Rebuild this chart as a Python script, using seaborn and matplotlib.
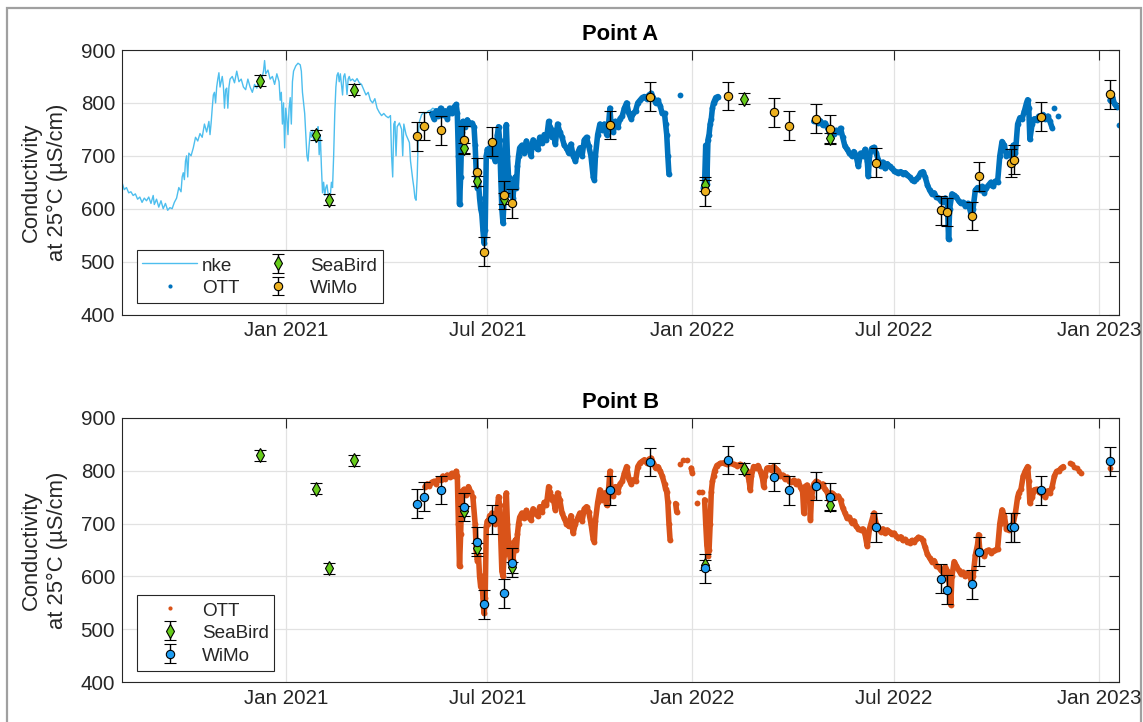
import numpy as np
import pandas as pd
import matplotlib
matplotlib.use("Agg")
import matplotlib.pyplot as plt
import matplotlib.dates as mdates
from matplotlib.lines import Line2D
from matplotlib.patches import Rectangle
import seaborn as sns

# ---------------- data ----------------
BASE = "2021-01-01"  # x values of the time series are days since this date
nan = np.nan

nke_day = [-148, -147, -145, -143, -141, -139, -137, -135, -133, -131, -129, -127, -125, -123,
           -121, -119, -118, -116, -114, -112, -110, -108, -106, -104, -102, -100, -98, -96,
           -94, -93, -92, -91, -90, -89, -88, -87, -85, -83, -81, -79, -77, -75, -73, -71,
           -69, -68, -67, -66, -65, -64, -63, -62, -61, -60, -59, -57, -56, -55, -54, -53,
           -52, -51, -50, -48, -46, -44, -42, -40, -38, -36, -34, -32, -30, -28, -26, -24,
           -22, -20, -19, -18, -16, -14, -12, -10, -8, -6, -5, -4, -3, -2, -1, 0, 1, 2, 3,
           4, 5, 6, 7, 9, 11, 13, 14, 15, 16, 17, 18, 19, 20, 21, 22, 23, 24, 25, 26, 27,
           28, 29, 30, 31, 32, 33, 34, 35, 36, 37, 38, 39, 40, 41, 42, 43, 44, 45, 46, 47,
           48, 49, 50, 51, 52, 53, 54, 55, 56, 57, 58, 60, 62, 64, 66, 68, 70, 72, 74, 76,
           78, 80, 82, 84, 86, 88, 90, 92, 94, 95, 96, 97, 98, 99, 100, 102, 104, 105, 106,
           108, 110, 111, 112, 114, 115, 116, 117, 118, 119, 120, 122, 124, 126, 128, 130,
           132, 134]
nke_val = [640, 650, 636, 640, 630, 632, 625, 628, 618, 622, 612, 620, 615, 622,
           610, 625, 608, 618, 603, 615, 600, 610, 597, 602, 600, 612, 620, 640,
           632, 660, 668, 655, 690, 700, 660, 705, 700, 715, 735, 728, 742, 735, 760, 745,
           765, 740, 762, 790, 815, 820, 800, 830, 845, 857, 830, 850, 832, 790, 825, 828,
           790, 830, 845, 850, 838, 860, 840, 845, 830, 825, 845, 830, 820, 835, 828, 845,
           840, 860, 880, 855, 862, 845, 850, 835, 855, 840, 805, 820, 760, 800, 715, 790,
           770, 740, 790, 810, 760, 840, 860, 870, 875, 872, 860, 820, 800, 780, 740, 700,
           690, 720, 745, 735, 748, 730, 740, 725, 745, 755, 702, 740, 680, 630, 650, 625,
           640, 645, 628, 612, 625, 650, 640, 700, 780, 830, 852, 857, 840, 855, 835, 815,
           850, 855, 840, 816, 845, 850, 842, 845, 840, 846, 838, 835, 825, 815, 820, 805,
           800, 808, 790, 782, 776, 780, 775, 772, 776, 700, 660, 760, 765, 700, 755, 762,
           750, 700, 760, 740, 730, 725, 690, 655, 640, 620, 616, 660, 740, 765, 778, 782,
           780, 785, 786, 790, 788]

# OTT, Point A (nan = gap in the record)
ott_a_day = [131, 133, 135, 137, 139, 141, 143, 145, 147, 149, 151, 153, 154, 155, 156, 157,
             158, 159, 161, 163, 165, 167, 169, 170, 171, 172, 173, 174, 175, 176, 177, 178,
             179, 180, 181, 182, 183, 184, 185, 186, 187, 188, 189, 190, 191, 192, 193, 194,
             195, 196, 197, 198, 199, 200, 201, 202, 203, 204, 205, 206, 207, 208, 209, 210,
             212, 214, 216, 218, 220, 222, 224, 226, 228, 230, 232, 234, 236, 237, 239, 240,
             242, 244, 246, 248, 250, 252, 254, 256, 258, 260, 262, 264, 266, 268, 270, 272,
             274, 276, 277, 278, 280, 282, 284, 286, 288, 290, 291, 292, 294, 296, 298, 300,
             302, 304, 306, 308, 310, 312, 314, 316, 318, 320, 322, 324, 326, 328, 330, 332,
             334, 336, 338, 340, 341, 342, 343, 344, 349, 354, 360, 375, 376, 377, 378, 379,
             380, 381, 382, 383, 384, 385, 386, 388, 430, 474, 476, 478, 480, 482, 484, 486,
             488, 490, 492, 494, 496, 498, 500, 502, 504, 506, 508, 510, 512, 514, 516, 518,
             520, 522, 523, 524, 526, 528, 530, 532, 534, 536, 538, 540, 542, 544, 546, 548,
             550, 552, 554, 556, 558, 560, 562, 564, 566, 568, 570, 572, 574, 576, 578, 580,
             582, 584, 586, 588, 590, 592, 594, 595, 596, 598, 600, 602, 604, 606, 608, 610,
             612, 614, 616, 617, 619, 621, 623, 625, 627, 629, 631, 633, 635, 637, 639, 641,
             643, 645, 647, 649, 651, 653, 655, 657, 659, 661, 663, 665, 666, 667, 668, 670,
             672, 674, 676, 678, 680, 682, 684, 686, 688, 689, 690, 691, 693, 720, 740, 742,
             744, 746, 747, 748]
ott_a_val = [780, 770, 785, 775, 790, 778, 785, 770, 790, 780, 792, 797, 780, 700, 608, 660,
             745, 765, 755, 768, 760, 762, 755, 720, 670, 640, 650, 620, 600, 590, 560, 535,
             560, 700, 712, 705, 715, 700, 720, 715, 705, 690, 710, 740, 755, 730, 660, 600,
             573, 620, 700, 759, 700, 660, 640, 625, 645, 620, 650, 660, 640, 680, 700, 715,
             720, 705, 728, 715, 700, 730, 722, 712, 735, 725, 740, 730, 765, 755, 735, 748,
             722, 760, 745, 735, 720, 715, 705, 722, 700, 690, 705, 715, 700, 730, 735, 718,
             700, 660, 655, 700, 740, 760, 748, 760, 740, 765, 790, 760, 745, 765, 755, 770,
             775, 790, 800, 780, 770, 780, 785, 800, 805, 810, 812, 808, 815, 818, 810, 800,
             805, 795, 780, 780, 760, 740, 700, 665, nan, 814, nan, 640, 650, 720, 646, 730,
             740, 760, 770, 790, 800, 805, 810, 812, nan, 765, 768, 762, 766, 758, 762, 755,
             745, 740, 742, 748, 745, 752, 735, 718, 712, 705, 700, 708, 700, 680, 705, 700,
             712, 690, 661, 700, 714, 716, 705, 692, 680, 688, 676, 685, 680, 676, 672, 670,
             668, 670, 666, 668, 664, 660, 655, 652, 656, 660, 668, 670, 660, 645, 635, 628,
             630, 622, 620, 615, 612, 620, 610, 542, 600, 628, 625, 622, 615, 610, 612, 605,
             610, 600, 583, 600, 635, 640, 636, 642, 630, 640, 645, 650, 642, 652, 650, 700,
             727, 720, 700, 705, 700, 720, 705, 760, 772, 770, 784, 800, 806, 790, 731, 760,
             770, 768, 775, 772, 778, 770, 775, 765, 753, nan, 790, nan, 776, nan, 805, 812,
             798, 792, nan, 759]

# OTT, Point B
ott_b_day = [125, 127, 129, 131, 133, 135, 137, 139, 141, 143, 145, 147, 149, 151, 153, 154,
             155, 156, 157, 158, 160, 162, 164, 166, 168, 170, 171, 172, 173, 174, 175, 176,
             177, 178, 179, 180, 181, 182, 183, 184, 185, 186, 188, 190, 191, 192, 193, 194,
             195, 196, 197, 198, 199, 200, 201, 202, 203, 204, 205, 206, 207, 208, 209, 210,
             212, 214, 216, 218, 220, 222, 224, 226, 228, 230, 232, 234, 236, 237, 239, 240,
             242, 244, 246, 248, 250, 252, 254, 256, 258, 260, 262, 264, 266, 268, 270, 272,
             274, 276, 277, 278, 280, 282, 284, 286, 288, 290, 291, 292, 294, 296, 298, 300,
             302, 304, 306, 308, 310, 312, 314, 316, 318, 320, 322, 324, 326, 328, 330, 332,
             334, 336, 338, 340, 341, 342, 343, 344, 345, 348, 350, 351, 352, 354, 355, 357,
             358, 360, 362, 364, 365, 367, 369, 370, 371, 372, 374, 375, 376, 377, 378, 379,
             380, 381, 382, 383, 384, 385, 387, 390, 393, 396, 399, 402, 405, 408, 411, 414,
             416, 417, 418, 420, 422, 424, 426, 428, 429, 430, 432, 434, 436, 438, 440, 442,
             444, 446, 448, 450, 452, 454, 456, 458, 460, 462, 464, 465, 466, 468, 470, 471,
             472, 474, 476, 478, 480, 482, 484, 486, 488, 490, 492, 494, 496, 498, 500, 502,
             504, 506, 508, 510, 512, 514, 516, 518, 520, 522, 524, 526, 528, 530, 532, 534,
             536, 538, 540, 542, 544, 546, 548, 550, 552, 554, 556, 558, 560, 562, 564, 566,
             568, 570, 572, 574, 576, 578, 580, 582, 584, 586, 588, 590, 592, 594, 596, 597,
             598, 600, 602, 604, 606, 608, 610, 612, 614, 616, 617, 619, 621, 622, 623, 625,
             627, 629, 631, 633, 635, 637, 639, 641, 643, 645, 647, 649, 651, 653, 655, 657,
             658, 660, 662, 664, 666, 667, 668, 670, 672, 674, 676, 678, 680, 682, 684, 686,
             688, 690, 692, 694, 696, 698, 701, 704, 705, 706, 707, 708, 709, 710, 711, 712,
             713, 714, 720, 740]
ott_b_val = [770, 775, 772, 778, 780, 775, 785, 782, 790, 785, 792, 788, 795, 790, 799, 790,
             700, 619, 680, 760, 765, 755, 770, 760, 750, 700, 650, 630, 640, 600, 580, 600,
             560, 530, 560, 694, 705, 700, 715, 705, 720, 712, 700, 730, 751, 735, 670, 610,
             600, 640, 710, 758, 700, 665, 640, 630, 650, 632, 655, 669, 650, 680, 700, 712,
             720, 710, 725, 712, 707, 728, 720, 715, 732, 722, 740, 735, 770, 760, 745, 750,
             726, 758, 745, 720, 710, 700, 695, 715, 682, 700, 710, 720, 705, 728, 732, 722,
             700, 670, 666, 705, 740, 764, 745, 758, 735, 770, 799, 765, 752, 770, 760, 775,
             780, 795, 808, 785, 775, 783, 780, 808, 815, 818, 821, 815, 822, 824, 815, 805,
             808, 800, 790, 775, 765, 760, 740, 700, 669, nan, 738, 722, nan, 813, nan, 821,
             nan, 821, nan, 805, 796, nan, 739, nan, 760, nan, 760, nan, 745, 700, 660, 638,
             650, 700, 760, 780, 790, 800, 810, 814, 815, 812, 815, 812, 810, 812, 808, 800,
             780, 764, 790, 808, 806, 810, 800, 785, 770, 790, 805, 806, 802, 808, 804, 800,
             790, 792, 785, 788, 780, 778, 782, 775, 780, 770, 760, 720, 770, 773, 760, 707,
             750, 775, 780, 778, 772, 775, 765, 760, 745, 758, 755, 750, 752, 745, 730, 720,
             710, 712, 702, 705, 695, 690, 688, 690, 680, 657, 690, 705, 720, 700, 692, 685,
             690, 682, 688, 684, 680, 682, 676, 672, 675, 668, 670, 666, 664, 668, 665, 670,
             674, 672, 668, 655, 642, 635, 628, 630, 620, 618, 612, 608, 618, 610, 580, 546,
             600, 628, 620, 612, 605, 608, 600, 606, 602, 587, 600, 640, 660, 679, 650, 645,
             638, 648, 650, 645, 648, 650, 652, 700, 726, 715, 690, 688, 692, 700, 720, 750,
             758, 765, 790, 800, 808, 780, 739, 750, 764, 765, 760, 758, 755, 750, 762, 758,
             770, 790, 799, 800, 805, 808, nan, 814, nan, 812, nan, 808, nan, 805, nan, 800,
             nan, 795, nan, 805]

# discrete samples with error bars
wimo_dates = ["2021-04-29", "2021-05-05", "2021-05-20", "2021-06-10", "2021-06-22", "2021-06-28",
              "2021-07-05", "2021-07-16", "2021-07-23", "2021-10-19", "2021-11-24", "2022-01-12",
              "2022-02-02", "2022-03-15", "2022-03-29", "2022-04-22", "2022-05-05", "2022-06-15",
              "2022-08-12", "2022-08-18", "2022-09-09", "2022-09-15", "2022-10-14", "2022-10-17",
              "2022-11-10", "2023-01-11"]
wimo_a = [737, 756, 748, 730, 669, 519, 727, 626, 610, 758, 812, 633, 813, 782, 757,
          770, 750, 687, 597, 594, 586, 661, 686, 693, 774, 816]
wimo_b = [738, 751, 764, 731, 666, 547, 708, 568, 626, 763, 817, 615, 820, 788, 763,
          771, 750, 693, 596, 575, 585, 647, 693, 693, 763, 818]
wimo_err = 27

seabird_a_dates = ["2020-12-09", "2021-01-28", "2021-02-09", "2021-03-03", "2021-06-10",
                   "2021-06-22", "2021-07-16", "2022-01-12", "2022-02-16", "2022-05-05"]
seabird_a = [842, 739, 617, 825, 715, 652, 619, 644, 808, 734]
seabird_b_dates = ["2020-12-09", "2021-01-28", "2021-02-09", "2021-03-03", "2021-06-10",
                   "2021-06-22", "2021-07-23", "2022-01-12", "2022-02-16", "2022-05-05"]
seabird_b = [829, 766, 615, 820, 724, 654, 617, 622, 804, 735]
seabird_err = 10

# ---------------- styling ----------------
C_NKE = "#4DBEEE"
C_OTT_A = "#0072BD"
C_OTT_B = "#D95319"
C_SB = "#66CC1A"
C_WA = "#EDB120"
C_WB = "#1E9DF2"
TXT = "#262626"

sns.set_style("white")
plt.rcParams["font.family"] = ["Liberation Sans", "DejaVu Sans"]
plt.rcParams["axes.unicode_minus"] = False


def to_time(days):
    return pd.Timestamp(BASE) + pd.to_timedelta(np.asarray(days, dtype=float), unit="D")


def series_frame(days, vals):
    df = pd.DataFrame({"t": to_time(days), "v": np.asarray(vals, dtype=float)})
    df["seg"] = df["v"].isna().cumsum()
    return df.dropna()


fig = plt.figure(figsize=(11.43, 7.22), dpi=100)
fig.patches.append(Rectangle((7 / 1143, -0.05), (1141 - 7) / 1143, 1.05 - 8 / 722,
                             transform=fig.transFigure, fill=False,
                             edgecolor="#A0A0A0", lw=1.6, zorder=-10))

ax_a = fig.add_axes([122 / 1143, 1 - 314.5 / 722, 997 / 1143, 264.5 / 722])
ax_b = fig.add_axes([122 / 1143, 1 - 682 / 722, 997 / 1143, 264 / 722])

x_lo, x_hi = pd.Timestamp("2020-08-07"), pd.Timestamp("2023-01-19")
ticks = [pd.Timestamp(s) for s in ["2021-01-01", "2021-07-01", "2022-01-01", "2022-07-01", "2023-01-01"]]


def style_axes(ax, title):
    ax.set_xlim(x_lo, x_hi)
    ax.set_ylim(400, 900)
    ax.set_yticks([400, 500, 600, 700, 800, 900])
    ax.set_xticks(ticks)
    ax.xaxis.set_major_formatter(mdates.DateFormatter("%b %Y"))
    ax.grid(True, color="#E2E2E2", lw=0.9)
    ax.set_axisbelow(True)
    ax.tick_params(direction="in", top=True, right=True, length=7.5, width=0.8,
                   labelsize=14.8, colors=TXT, pad=5)
    for s in ax.spines.values():
        s.set_visible(True)
        s.set_color(TXT)
        s.set_linewidth(0.8)
    ax.set_xlabel("")
    ax.set_ylabel("Conductivity\nat 25°C (µS/cm)", fontsize=15.8, color=TXT, linespacing=1.3)
    ax.yaxis.set_label_coords(-0.054, 0.5)
    ax.set_title(title, fontsize=15.8, fontweight="bold", color="black", pad=7)


def draw_series(ax, days, vals, color, lw):
    df = series_frame(days, vals)
    sns.lineplot(data=df, x="t", y="v", units="seg", estimator=None, sort=False, ax=ax,
                 color=color, lw=lw, marker="o", markersize=4.2, markeredgewidth=0,
                 legend=False, zorder=2)


def draw_samples(ax, dates, vals, err, marker, face, ms):
    t = pd.to_datetime(dates)
    return ax.errorbar(t, vals, yerr=err, fmt=marker, ls="none", color="black", ecolor="black",
                       elinewidth=1.0, capsize=4.2, capthick=1.0, markerfacecolor=face,
                       markeredgecolor="black", markeredgewidth=0.8, markersize=ms, zorder=4)


# --- Point A
sns.lineplot(x=to_time(nke_day), y=nke_val, ax=ax_a, color=C_NKE, lw=1.0, legend=False, zorder=1)
draw_series(ax_a, ott_a_day, ott_a_val, C_OTT_A, 4.0)
sb_a = draw_samples(ax_a, seabird_a_dates, seabird_a, seabird_err, "d", C_SB, 7)
wm_a = draw_samples(ax_a, wimo_dates, wimo_a, wimo_err, "o", C_WA, 6)
style_axes(ax_a, "Point A")

h_nke = Line2D([], [], color=C_NKE, lw=1.0)
h_ott_a = Line2D([], [], color=C_OTT_A, marker="o", ls="none", markersize=3, markeredgewidth=0)
leg_a = ax_a.legend([h_nke, h_ott_a, sb_a, wm_a], ["nke", "OTT", "SeaBird", "WiMo"],
                    ncol=2, loc="lower left", bbox_to_anchor=(0.0147, 0.043), borderaxespad=0,
                    fontsize=13.6, frameon=True, fancybox=False, edgecolor=TXT, framealpha=1,
                    handlelength=2.9, handleheight=1.0, handletextpad=0.25, columnspacing=0.6,
                    labelspacing=0.2, borderpad=0.3)
leg_a.get_frame().set_linewidth(0.8)

# --- Point B
draw_series(ax_b, ott_b_day, ott_b_val, C_OTT_B, 4.0)
sb_b = draw_samples(ax_b, seabird_b_dates, seabird_b, seabird_err, "d", C_SB, 7)
wm_b = draw_samples(ax_b, wimo_dates, wimo_b, wimo_err, "o", C_WB, 6)
style_axes(ax_b, "Point B")

h_ott_b = Line2D([], [], color=C_OTT_B, marker="o", ls="none", markersize=3, markeredgewidth=0)
leg_b = ax_b.legend([h_ott_b, sb_b, wm_b], ["OTT", "SeaBird", "WiMo"],
                    loc="lower left", bbox_to_anchor=(0.0147, 0.043), borderaxespad=0,
                    fontsize=13.6, frameon=True, fancybox=False, edgecolor=TXT, framealpha=1,
                    handlelength=2.9, handleheight=1.0, handletextpad=0.25,
                    labelspacing=0.2, borderpad=0.3)
leg_b.get_frame().set_linewidth(0.8)

fig.savefig("out.png", dpi=100)
